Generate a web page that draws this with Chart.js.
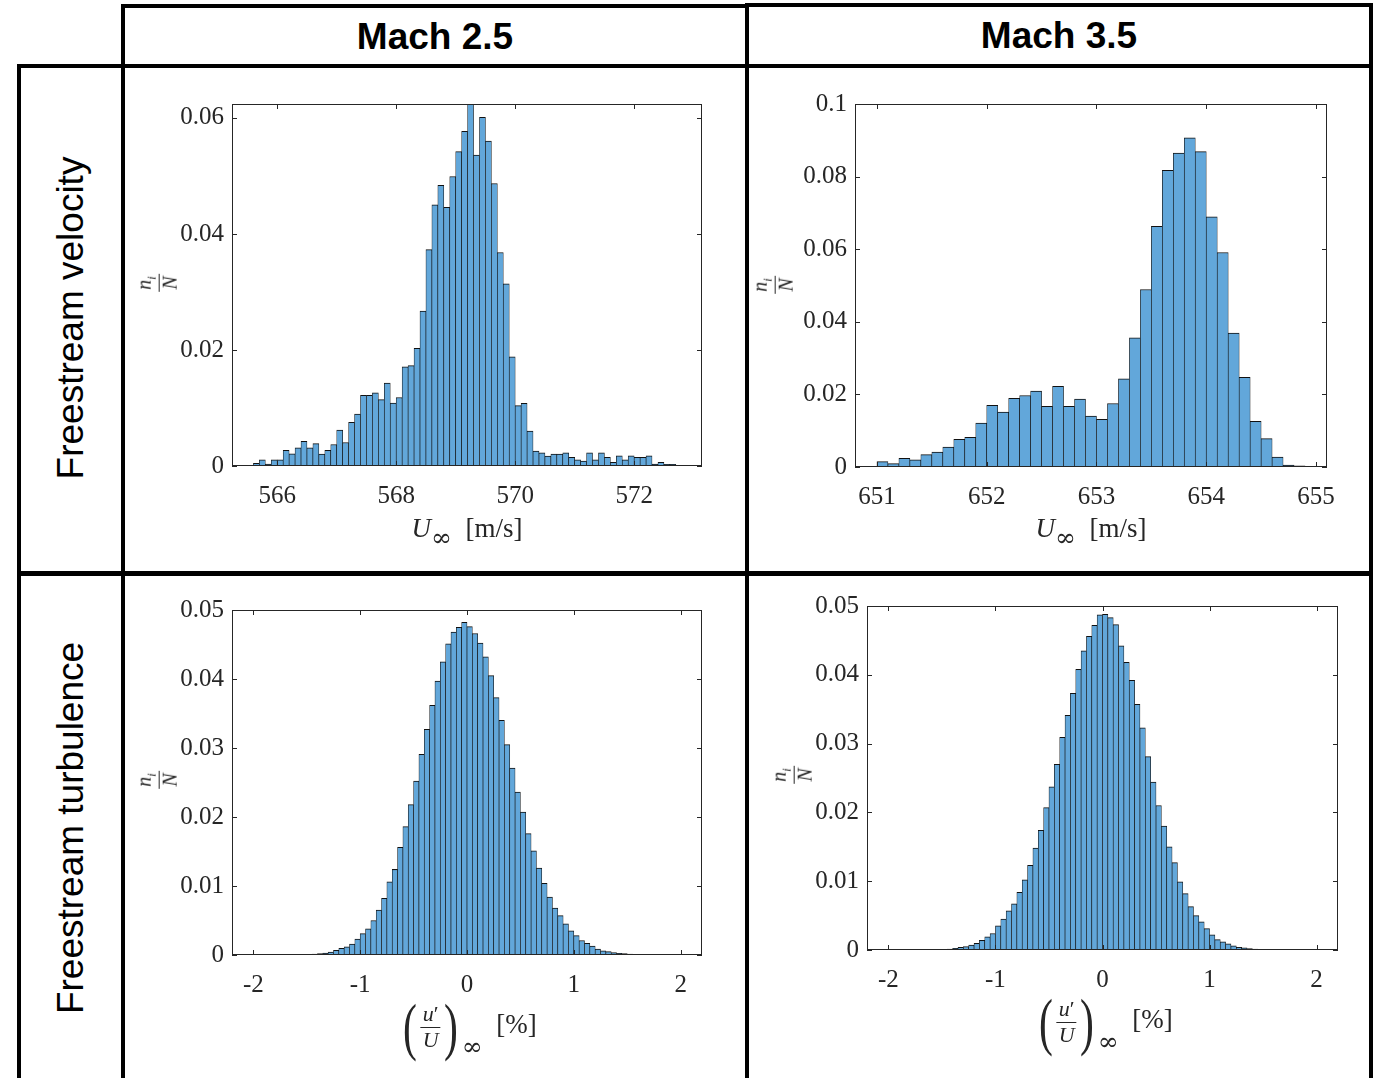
<!DOCTYPE html>
<html>
<head>
<meta charset="utf-8">
<script src="https://cdn.jsdelivr.net/npm/chart.js@4.4.1/dist/chart.umd.min.js"></script>
<style>
  body { margin: 0; background: #fff; }
  #page { position: relative; width: 1377px; height: 1078px; overflow: hidden; background: #fff; }
  .ln { position: absolute; background: #000; }
  .hd { position: absolute; transform: translate(-50%, -50%); font: bold 37px "Liberation Sans", Arial, sans-serif; white-space: nowrap; }
  .row { position: absolute; transform: translate(-50%, -50%) rotate(-90deg); font: 37px "Liberation Sans", Arial, sans-serif; white-space: nowrap; }
  canvas { position: absolute; }
  .ttl { position: absolute; transform: translate(-50%, -50%); font: 27px "Liberation Serif", serif; color: #262626; white-space: nowrap; line-height: 1; }
  .ttl .inf { font-family: "DejaVu Serif", serif; font-size: 25px; vertical-align: -9px; line-height: 0; }
  .ttl .inf2 { font-family: "DejaVu Serif", serif; font-size: 25px; vertical-align: -22px; line-height: 0; }
  .frac { display: inline-block; vertical-align: middle; text-align: center; font-size: 22px; line-height: 1.1; }
  .frac > span { display: block; padding: 0 2px; }
  .frac > span:first-child { border-bottom: 1px solid #262626; }
  .par { display: inline-block; font-size: 64px; vertical-align: middle; transform: scaleX(0.65); line-height: 1; }
  .yt { position: absolute; transform: translate(-50%, -50%) rotate(-90deg); font: 20px "Liberation Serif", serif; color: #262626; }
  .yt .frac { font-size: 20px; line-height: 1.05; }
  .yt sub { font-size: 13px; }
</style>
</head>
<body>
<div id="page">
  <!-- table rules -->
  <div class="ln" style="left:121px;top:4px;width:628px;height:4px"></div>
  <div class="ln" style="left:745px;top:3px;width:628px;height:4px"></div>
  <div class="ln" style="left:17px;top:64px;width:1356px;height:4px"></div>
  <div class="ln" style="left:17px;top:571px;width:1356px;height:5px"></div>
  <div class="ln" style="left:17px;top:64px;width:4px;height:1014px"></div>
  <div class="ln" style="left:121px;top:4px;width:4px;height:1074px"></div>
  <div class="ln" style="left:745px;top:3px;width:4px;height:1075px"></div>
  <div class="ln" style="left:1369px;top:3px;width:4px;height:1075px"></div>

  <div class="hd" style="left:435px;top:37px">Mach 2.5</div>
  <div class="hd" style="left:1059px;top:36px">Mach 3.5</div>
  <div class="row" style="left:71px;top:318px">Freestream velocity</div>
  <div class="row" style="left:71px;top:828px">Freestream turbulence</div>

  <canvas id="velM25"></canvas>
  <canvas id="velM35"></canvas>
  <canvas id="turbM25"></canvas>
  <canvas id="turbM35"></canvas>

  <div class="yt" style="left:157px;top:283px"><span class="frac"><span><i>n</i><sub><i>i</i></sub></span><span><i>N</i></span></span></div>
  <div class="yt" style="left:773px;top:285px"><span class="frac"><span><i>n</i><sub><i>i</i></sub></span><span><i>N</i></span></span></div>
  <div class="yt" style="left:157px;top:780px"><span class="frac"><span><i>n</i><sub><i>i</i></sub></span><span><i>N</i></span></span></div>
  <div class="yt" style="left:792px;top:775px"><span class="frac"><span><i>n</i><sub><i>i</i></sub></span><span><i>N</i></span></span></div>

  <div class="ttl" style="left:467px;top:528px"><i>U</i><span class="inf">∞</span>&nbsp;&nbsp;[m/s]</div>
  <div class="ttl" style="left:1091px;top:528px"><i>U</i><span class="inf">∞</span>&nbsp;&nbsp;[m/s]</div>
  <div class="ttl" style="left:468px;top:1027px"><span class="par">(</span><span class="frac"><span><i>u</i>′</span><span><i>U</i></span></span><span class="par">)</span><span class="inf2">∞</span>&nbsp;&nbsp;[%]</div>
  <div class="ttl" style="left:1104px;top:1022px"><span class="par">(</span><span class="frac"><span><i>u</i>′</span><span><i>U</i></span></span><span class="par">)</span><span class="inf2">∞</span>&nbsp;&nbsp;[%]</div>
</div>

<script>
// Mach 2.5, freestream velocity histogram (bins of 0.1 m/s from 565.6)
var velM25Lo = 565.6;
var velM25Bin = 0.1;
var velM25Freq = [
  0.00046, 0.00108, 0.00034, 0.00108, 0.00108, 0.00268, 0.00211, 0.00313, 0.00427, 0.00313,
  0.00387, 0.00205, 0.00268, 0.0037, 0.00621, 0.00405, 0.00752, 0.00895, 0.0122, 0.0122,
  0.0126, 0.01145, 0.0143, 0.01083, 0.0118, 0.0171, 0.0173, 0.0203, 0.0267, 0.0373,
  0.045, 0.0484, 0.0446, 0.0499, 0.0542, 0.0577, 0.0624, 0.0536, 0.0601, 0.056,
  0.0487, 0.0368, 0.0314, 0.0188, 0.0104, 0.0108, 0.006, 0.00256, 0.00228, 0.00171,
  0.00205, 0.00205, 0.00228, 0.00148, 0.00108, 0.00085, 0.00228, 0.00108, 0.00228, 0.00148,
  0.00063, 0.00177, 0.00108, 0.00177, 0.00148, 0.00148, 0.00177, 0.00034, 0.00063, 0.00028,
  0.00028, 0.00011
];
var velM25XTicks = [566, 568, 570, 572];
var velM25YTicks = [0, 0.02, 0.04, 0.06];

// Mach 3.5, freestream velocity histogram (bins of 0.1 m/s from 651.0)
var velM35Lo = 651.0;
var velM35Bin = 0.1;
var velM35Freq = [
  0.00146, 0.00091, 0.00238, 0.002, 0.00339, 0.0041, 0.0055, 0.0076, 0.0082, 0.0121,
  0.017, 0.0151, 0.0189, 0.0197, 0.0209, 0.0167, 0.0222, 0.0167, 0.0187, 0.014,
  0.0131, 0.0175, 0.0243, 0.0356, 0.0489, 0.0663, 0.0817, 0.0865, 0.0907, 0.0869,
  0.0689, 0.0591, 0.0369, 0.0247, 0.0126, 0.0078, 0.0027, 0.00055, 0.0003
];
var velM35XTicks = [651, 652, 653, 654, 655];
var velM35YTicks = [0, 0.02, 0.04, 0.06, 0.08, 0.1];

// Mach 2.5, turbulence intensity histogram (bins of 0.05 % from -1.65)
var turbM25Lo = -1.65;
var turbM25Bin = 0.05;
var turbM25Freq = [
  0.00002, 0.00004, 0.00006, 0.0001, 0.00014, 0.00019, 0.00029, 0.00043, 0.00067, 0.00096,
  0.0012, 0.0016, 0.0023, 0.0031, 0.0038, 0.005, 0.0065, 0.0082, 0.0106, 0.0124,
  0.0156, 0.0186, 0.0218, 0.0252, 0.0291, 0.0327, 0.0362, 0.0397, 0.0425, 0.0451,
  0.0468, 0.0475, 0.0482, 0.0476, 0.0466, 0.0452, 0.0432, 0.0405, 0.0373, 0.034,
  0.0305, 0.0271, 0.0236, 0.0207, 0.0176, 0.0151, 0.0126, 0.0104, 0.0084, 0.0068,
  0.0057, 0.0045, 0.0035, 0.0028, 0.0021, 0.0017, 0.0013, 0.00086, 0.0006, 0.00048,
  0.00034, 0.00024, 0.0002, 0.00014, 0.0001, 0.00008, 0.00005
];

// Mach 3.5, turbulence intensity histogram (bins of 0.05 % from -1.55)
var turbM35Lo = -1.55;
var turbM35Bin = 0.05;
var turbM35Freq = [
  0.00005, 0.0001, 0.00014, 0.00024, 0.0004, 0.0005, 0.0007, 0.00096, 0.0014, 0.0019,
  0.0024, 0.0035, 0.0045, 0.0057, 0.0067, 0.0084, 0.0102, 0.0123, 0.0148, 0.0174,
  0.0207, 0.0237, 0.027, 0.0309, 0.0341, 0.0373, 0.0408, 0.0435, 0.0456, 0.0472,
  0.0487, 0.0488, 0.0483, 0.0473, 0.0442, 0.0418, 0.0392, 0.0357, 0.0323, 0.0281,
  0.0244, 0.021, 0.018, 0.015, 0.0127, 0.0099, 0.0082, 0.0063, 0.005, 0.0041,
  0.0031, 0.0022, 0.0015, 0.0012, 0.0009, 0.0006, 0.0004, 0.0003, 0.0002, 0.00014,
  0.00008
];
var turbXTicks = [-2, -1, 0, 1, 2];
var turbYTicks = [0, 0.01, 0.02, 0.03, 0.04, 0.05];

var BAR_FILL = "#62a7da";
var BAR_EDGE = "#111111";
var AX_COLOR = "#262626";
var TICK_FONT = { family: "'Liberation Serif', serif", size: 25 };

// space around the plot box inside each canvas
var PAD_L = 100, PAD_T = 20, PAD_R = 30, PAD_B = 60;

// MATLAB style box with inward ticks on all four sides
var boxPlugin = {
  id: "matlabBox",
  afterDraw: function (chart) {
    var a = chart.chartArea;
    var ctx = chart.ctx;
    var xs = chart.scales.x;
    var ys = chart.scales.y;
    ctx.save();
    ctx.strokeStyle = AX_COLOR;
    ctx.lineWidth = 1;
    ctx.strokeRect(a.left + 0.5, a.top + 0.5, a.right - a.left - 1, a.bottom - a.top - 1);
    ctx.beginPath();
    xs.ticks.forEach(function (t) {
      var px = Math.round(xs.getPixelForValue(t.value)) + 0.5;
      ctx.moveTo(px, a.bottom);
      ctx.lineTo(px, a.bottom - 5);
      ctx.moveTo(px, a.top);
      ctx.lineTo(px, a.top + 5);
    });
    ys.ticks.forEach(function (t) {
      var py = Math.round(ys.getPixelForValue(t.value)) + 0.5;
      ctx.moveTo(a.left, py);
      ctx.lineTo(a.left + 5, py);
      ctx.moveTo(a.right, py);
      ctx.lineTo(a.right - 5, py);
    });
    ctx.stroke();
    ctx.restore();
  },
};

function makeHist(id, rect, lo, bin, freq, xMin, xMax, xTicks, yMax, yTicks) {
  var cv = document.getElementById(id);
  cv.width = rect[2] + PAD_L + PAD_R;
  cv.height = rect[3] + PAD_T + PAD_B;
  cv.style.left = rect[0] - PAD_L + "px";
  cv.style.top = rect[1] - PAD_T + "px";

  var pts = freq.map(function (f, i) {
    return { x: lo + (i + 0.5) * bin, y: f };
  });

  return new Chart(cv, {
    type: "bar",
    data: {
      datasets: [
        {
          data: pts,
          backgroundColor: BAR_FILL,
          borderColor: BAR_EDGE,
          borderWidth: { top: 1, left: 0.65, right: 0.65, bottom: 0 },
          borderSkipped: false,
          barPercentage: 1,
          categoryPercentage: 1,
        },
      ],
    },
    options: {
      responsive: false,
      animation: false,
      layout: { padding: { left: 0, top: PAD_T, right: PAD_R, bottom: 0 } },
      plugins: { legend: { display: false }, tooltip: { enabled: false } },
      scales: {
        x: {
          type: "linear",
          min: xMin,
          max: xMax,
          bounds: "data",
          offset: false,
          grid: { display: false, drawTicks: false },
          border: { display: false },
          afterBuildTicks: function (s) {
            s.ticks = xTicks.map(function (v) { return { value: v }; });
          },
          afterFit: function (s) { s.height = PAD_B; },
          ticks: {
            autoSkip: false,
            maxRotation: 0,
            padding: 15,
            color: AX_COLOR,
            font: TICK_FONT,
            callback: function (v) { return String(v); },
          },
        },
        y: {
          min: 0,
          max: yMax,
          bounds: "data",
          grid: { display: false, drawTicks: false },
          border: { display: false },
          afterBuildTicks: function (s) {
            s.ticks = yTicks.map(function (v) { return { value: v }; });
          },
          afterFit: function (s) { s.width = PAD_L; },
          ticks: {
            padding: 8,
            color: AX_COLOR,
            font: TICK_FONT,
            callback: function (v) { return String(v); },
          },
        },
      },
    },
    plugins: [boxPlugin],
  });
}

makeHist("velM25", [232, 101, 470, 365], velM25Lo, velM25Bin, velM25Freq,
  565.24, 573.14, velM25XTicks, 0.0624, velM25YTicks);
makeHist("velM35", [855, 101, 472, 366], velM35Lo, velM35Bin, velM35Freq,
  650.8, 655.1, velM35XTicks, 0.1, velM35YTicks);
makeHist("turbM25", [232, 607, 470, 348], turbM25Lo, turbM25Bin, turbM25Freq,
  -2.2, 2.2, turbXTicks, 0.05, turbYTicks);
makeHist("turbM35", [867, 603, 471, 347], turbM35Lo, turbM35Bin, turbM35Freq,
  -2.2, 2.2, turbXTicks, 0.05, turbYTicks);
</script>
</body>
</html>
